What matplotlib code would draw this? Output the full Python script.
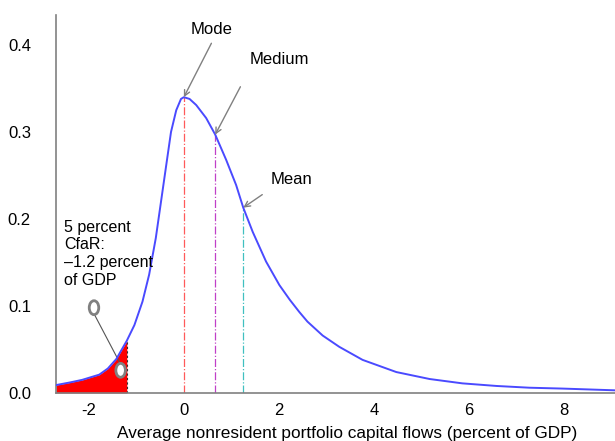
import matplotlib

matplotlib.use("Agg")

import matplotlib.pyplot as plt
from matplotlib.patches import Ellipse

plt.rcParams["font.family"] = ["Liberation Sans", "DejaVu Sans"]
plt.rcParams["axes.unicode_minus"] = False

# density of nonresident portfolio flows
flow_x = [-2.69, -2.4, -2.14, -1.78, -1.6, -1.42, -1.2, -1.04, -0.87, -0.73,
          -0.59, -0.48, -0.37, -0.27, -0.16, -0.06, 0.0, 0.12, 0.26, 0.47,
          0.66, 0.89, 1.10, 1.25, 1.45, 1.73, 2.01, 2.23, 2.43, 2.6, 2.92,
          3.27, 3.76, 4.47, 5.17, 5.86, 6.58, 7.27, 7.97, 9.07]
density = [0.009, 0.012, 0.015, 0.021, 0.028, 0.039, 0.060, 0.078, 0.105, 0.136,
           0.178, 0.220, 0.262, 0.300, 0.325, 0.338, 0.340, 0.338, 0.331, 0.316,
           0.297, 0.268, 0.239, 0.213, 0.185, 0.151, 0.124, 0.107, 0.093, 0.082,
           0.066, 0.053, 0.038, 0.024, 0.016, 0.011, 0.008, 0.006, 0.005, 0.003]

cfar_x = -1.2
mode_x, mode_y = 0.0, 0.340
median_x, median_y = 0.66, 0.297
mean_x, mean_y = 1.25, 0.213

x_ticks = [-2, 0, 2, 4, 6, 8]
y_ticks = [0.0, 0.1, 0.2, 0.3, 0.4]
y_tick_labels = ["0.0", "0.1", "0.2", "0.3", "0.4"]

fig = plt.figure(figsize=(6.15, 4.41), dpi=100)
ax = fig.add_axes([0.091, 0.109, 0.909, 0.857])

tail_x = [x for x in flow_x if x <= cfar_x]
tail_y = density[: len(tail_x)]
ax.fill_between(tail_x, 0, tail_y, color="#ff0000", linewidth=0)
ax.plot([cfar_x, cfar_x], [0, tail_y[-1]], color="#333333", linestyle=(0, (2, 2)), linewidth=0.8)

ax.plot(flow_x, density, color="#4a4aff", linewidth=1.4, zorder=3,
        solid_joinstyle="round")

for x, y, color in [
    (mode_x, mode_y, "#ff5a5a"),
    (median_x, median_y, "#c040c8"),
    (mean_x, mean_y, "#40c0c0"),
]:
    ax.plot([x, x], [0, y], color=color, linestyle="-.", linewidth=0.9, zorder=2)

arrow = dict(arrowstyle="->", color="#808080", linewidth=1.0, shrinkA=0, shrinkB=0)
ax.annotate("", xy=(mode_x, mode_y), xytext=(0.58, 0.402), arrowprops=arrow)
ax.text(0.58, 0.418, "Mode", fontsize=12, ha="center", va="center")
ax.annotate("", xy=(median_x, median_y), xytext=(1.19, 0.352), arrowprops=arrow)
ax.text(2.01, 0.383, "Medium", fontsize=12, ha="center", va="center")
ax.annotate("", xy=(mean_x, mean_y), xytext=(1.65, 0.228), arrowprops=arrow)
ax.text(2.26, 0.245, "Mean", fontsize=12, ha="center", va="center")

ax.text(-2.52, 0.160, "5 percent\nCfaR:\n\u20131.2 percent\nof GDP",
        fontsize=11.5, ha="left", va="center", linespacing=1.22)

# callout linking the label to the shaded tail
ax.plot([-1.87, -1.36], [0.089, 0.036], color="#555555", linewidth=0.8)
for cx, cy in [(-1.89, 0.098), (-1.33, 0.026)]:
    ax.add_patch(Ellipse((cx, cy), 0.2, 0.016, facecolor="white",
                         edgecolor="#808080", linewidth=2.0, zorder=4))

ax.set_xlim(-2.69, 9.07)
ax.set_ylim(0, 0.4345)
ax.set_xticks(x_ticks)
ax.set_yticks(y_ticks)
ax.set_yticklabels(y_tick_labels)
ax.tick_params(length=0, labelsize=12)
ax.tick_params(axis="y", pad=18)
ax.tick_params(axis="x", pad=7)
ax.set_xlabel("Average nonresident portfolio capital flows (percent of GDP)", fontsize=12.4)
ax.xaxis.set_label_coords(0.52, -0.087)

for side in ["top", "right"]:
    ax.spines[side].set_visible(False)
for side in ["left", "bottom"]:
    ax.spines[side].set_color("#808080")
    ax.spines[side].set_linewidth(1.2)

fig.savefig("out.png", dpi=100)
